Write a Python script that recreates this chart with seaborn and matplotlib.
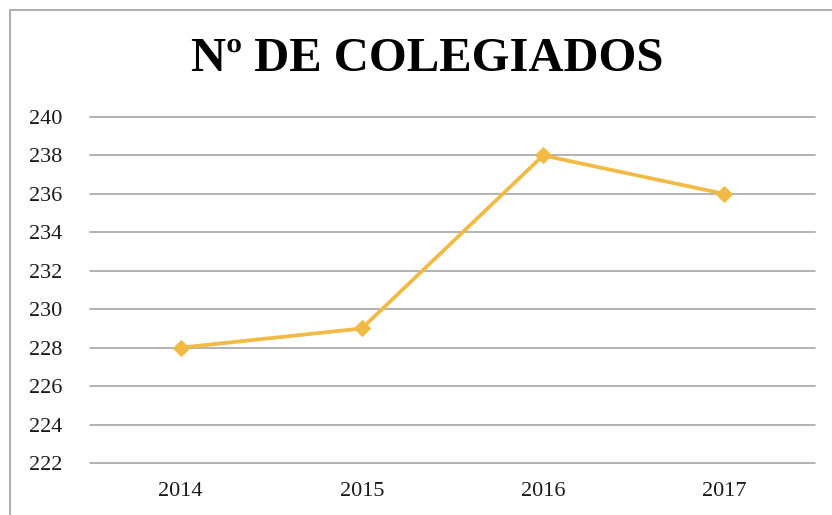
import numpy as np
import pandas as pd
import matplotlib
matplotlib.use("Agg")
import matplotlib.pyplot as plt
import seaborn as sns
from matplotlib.patches import Rectangle

years = ["2014", "2015", "2016", "2017"]
colegiados = [228, 229, 238, 236]
y_ticks = [222, 224, 226, 228, 230, 232, 234, 236, 238, 240]
title = "Nº DE COLEGIADOS"

sns.set_style("white")
plt.rcParams['font.family'] = ['Liberation Serif', 'DejaVu Serif']

df = pd.DataFrame({"year": years, "value": colegiados})

fig = plt.figure(figsize=(8.32, 5.15), dpi=100)
ax = fig.add_axes([90/832, 1 - 463/515, 725/832, (463 - 117)/515])

sns.lineplot(data=df, x="year", y="value", ax=ax, color="#F0BA45",
             linewidth=2.7, marker="D", markersize=8,
             markeredgecolor="#F0BA45", sort=False)

ax.set_xlim(-0.5, 3.5)
ax.set_ylim(222, 240)
ax.set_yticks(y_ticks)
ax.yaxis.grid(True, color="#A6A6A6", linewidth=1.2)
for gl in ax.get_ygridlines():
    gl.set_clip_on(False)
ax.set_axisbelow(True)
for s in ax.spines.values():
    s.set_visible(False)
ax.tick_params(axis="both", length=0, labelsize=16, colors="#1a1a1a")
ax.tick_params(axis="y", pad=20)
ax.tick_params(axis="x", pad=14)
ax.set_xlabel("")
ax.set_ylabel("")

fig.text(427/832, 1 - 59/515, title, ha="center", va="center",
         fontsize=35, fontweight="bold", color="black")

fig.patches.append(Rectangle((10/832, -0.1), 1.2, 1 - 10/515 + 0.1,
                             transform=fig.transFigure, fill=False,
                             edgecolor="#A0A0A0", linewidth=1.2))

fig.savefig("out.png", dpi=100)
